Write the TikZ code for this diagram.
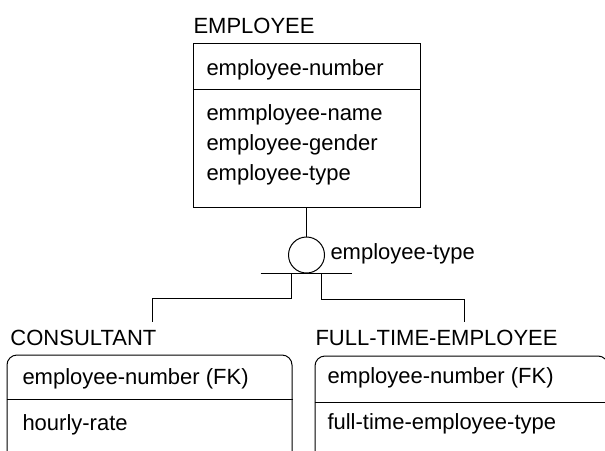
\documentclass[tikz,border=0pt]{standalone}
\usepackage{fontspec}
\setmainfont{Liberation Sans}
\usetikzlibrary{positioning,calc}

\begin{document}
\begin{tikzpicture}[
  x=0.5pt,y=-0.5pt,
  font=\fontsize{11}{13}\selectfont,
  line width=0.5pt,
  title/.style={anchor=base west,inner sep=0pt},
  attr/.style={anchor=base west,inner sep=0pt},
  entbox/.style={draw,rectangle,inner sep=0pt},
  depbox/.style={draw,rectangle,rounded corners=5pt,inner sep=0pt},
  cat/.style={draw,circle,minimum size=18pt,inner sep=0pt}
]
\clip (0,0) rectangle (605,450);
\node[entbox,minimum width=113.5pt,minimum height=82pt] (emp) at (306.5,125) {};
\node[title] (emptitle) at (193,33) {EMPLOYEE};
\draw ($(emp.north west)+(0,47)$) -- ($(emp.north east)+(0,47)$);
\node[attr] (empkey) at (206,75) {employee-number};
\node[attr] (empname) at (206,120) {emmployee-name};
\node[attr] (empgender) at (206,150) {employee-gender};
\node[attr] (emptype) at (206,180) {employee-type};
\node[cat] (disc) at (306.5,255) {};
\node[attr] (disclbl) at (330,259) {employee-type};
\draw (emp.south) -- (disc.north);
\draw ($(disc.south)+(-46,0)$) -- ($(disc.south)+(45,0)$);
\node[depbox,minimum width=142.5pt,minimum height=56pt] (con) at (149.5,411) {};
\node[title] (contitle) at (10,345) {CONSULTANT};
\draw ($(con.north west)+(0,45)$) -- ($(con.north east)+(0,45)$);
\node[attr] (conkey) at (22,384) {employee-number (FK)};
\node[attr] (conrate) at (22,430) {hourly-rate};
\node[depbox,minimum width=146.5pt,minimum height=56pt] (fte) at (461.5,412) {};
\node[title] (ftetitle) at (315,345) {FULL-TIME-EMPLOYEE};
\draw ($(fte.north west)+(0,47)$) -- ($(fte.north east)+(0,47)$);
\node[attr] (ftekey) at (327,383) {employee-number (FK)};
\node[attr] (ftetype) at (327,429) {full-time-employee-type};
\coordinate (conin) at (152,322);
\coordinate (ftein) at (464,322);
\draw ($(disc.south)+(-15,0)$) -- ++(0,25) -| (conin);
\draw ($(disc.south)+(15,0)$) -- ++(0,26) -| (ftein);
\end{tikzpicture}
\end{document}
